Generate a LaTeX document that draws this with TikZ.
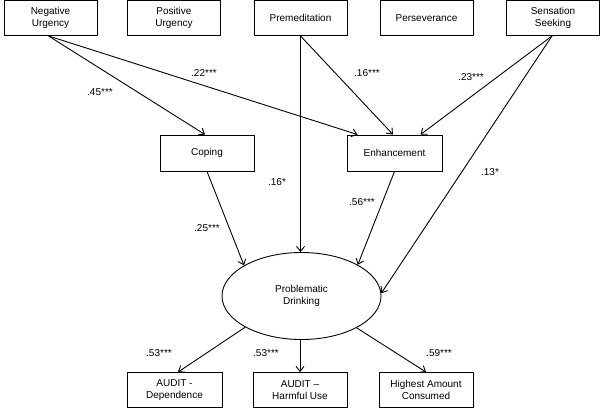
\documentclass[tikz,border=0pt]{standalone}
\usepackage{fontspec}
\setmainfont{Liberation Sans}
\usetikzlibrary{arrows.meta,shapes.geometric}
\begin{document}
\begin{tikzpicture}[x=1pt,y=-1pt,
  every node/.style={font=\fontsize{10}{12}\selectfont, align=center},
  box/.style={draw, line width=0.9pt, minimum height=35pt, inner sep=0pt},
  lab/.style={inner sep=0pt},
  arr/.style={line width=0.9pt, -{Straight Barb[length=5pt,width=8pt,line width=0.9pt]}}]
\useasboundingbox (0,0) rectangle (601,408);
% top row
\node[box, minimum width=93pt] (nu)   at (50.5,18)  {Negative\\Urgency};
\node[box, minimum width=93pt] (pu)   at (174,18)   {Positive\\Urgency};
\node[box, minimum width=93pt] (prem) at (300.5,18) {Premeditation};
\node[box, minimum width=93pt] (pers) at (426.5,18) {Perseverance};
\node[box, minimum width=93pt] (ss)   at (553,18)   {Sensation\\Seeking};
% middle
\node[box, minimum width=94pt, minimum height=36pt] (cop) at (207,153)   {Coping};
\node[box, minimum width=95pt, minimum height=36pt] (enh) at (394.5,153) {Enhancement};
\node[draw, line width=0.9pt, ellipse, minimum width=159pt, minimum height=87pt, inner sep=0pt] (pd) at (301.5,296) {Problematic\\Drinking};
% bottom
\node[box, minimum width=95pt] (dep) at (174.5,390) {AUDIT -\\Dependence};
\node[box, minimum width=94pt] (hu)  at (300,390)   {AUDIT –\\Harmful Use};
\node[box, minimum width=94pt] (hac) at (426,390)   {Highest Amount\\Consumed};
% connectors
\draw[arr] ([xshift=-2pt]nu.south) -- ([xshift=-2pt]cop.north);
\draw[arr] ([xshift=-2pt]nu.south) -- ([xshift=-37pt]enh.north);
\draw[arr] (prem.south) -- ([xshift=-1.5pt]enh.north);
\draw[arr] (prem.south) -- (prem.south |- pd.north);
\draw[arr] ([xshift=-1pt]ss.south) -- ([xshift=26pt]enh.north);
\draw[arr] ([xshift=-1pt]ss.south) -- (pd.2);
\draw[arr] (cop.south) -- (pd.152);
\draw[arr] (enh.south) -- (pd.29);
\draw[arr] (pd.209) -- ([xshift=3.5pt]dep.north);
\draw[arr] (pd.south -| hu.north) -- (hu.north);
\draw[arr] (pd.-30) -- (hac.north);
% labels
\node[lab] (l1)  at (100,92)  {.45***};
\node[lab] (l2)  at (204,73)  {.22***};
\node[lab] (l3)  at (367,73)  {.16***};
\node[lab] (l4)  at (277,182) {.16*};
\node[lab] (l5)  at (471,77)  {.23***};
\node[lab] (l6)  at (490,172) {.13*};
\node[lab] (l7)  at (207,228) {.25***};
\node[lab] (l8)  at (362,202) {.56***};
\node[lab] (l9)  at (159,353) {.53***};
\node[lab] (l10) at (266,353) {.53***};
\node[lab] (l11) at (439,353) {.59***};
\end{tikzpicture}
\end{document}
